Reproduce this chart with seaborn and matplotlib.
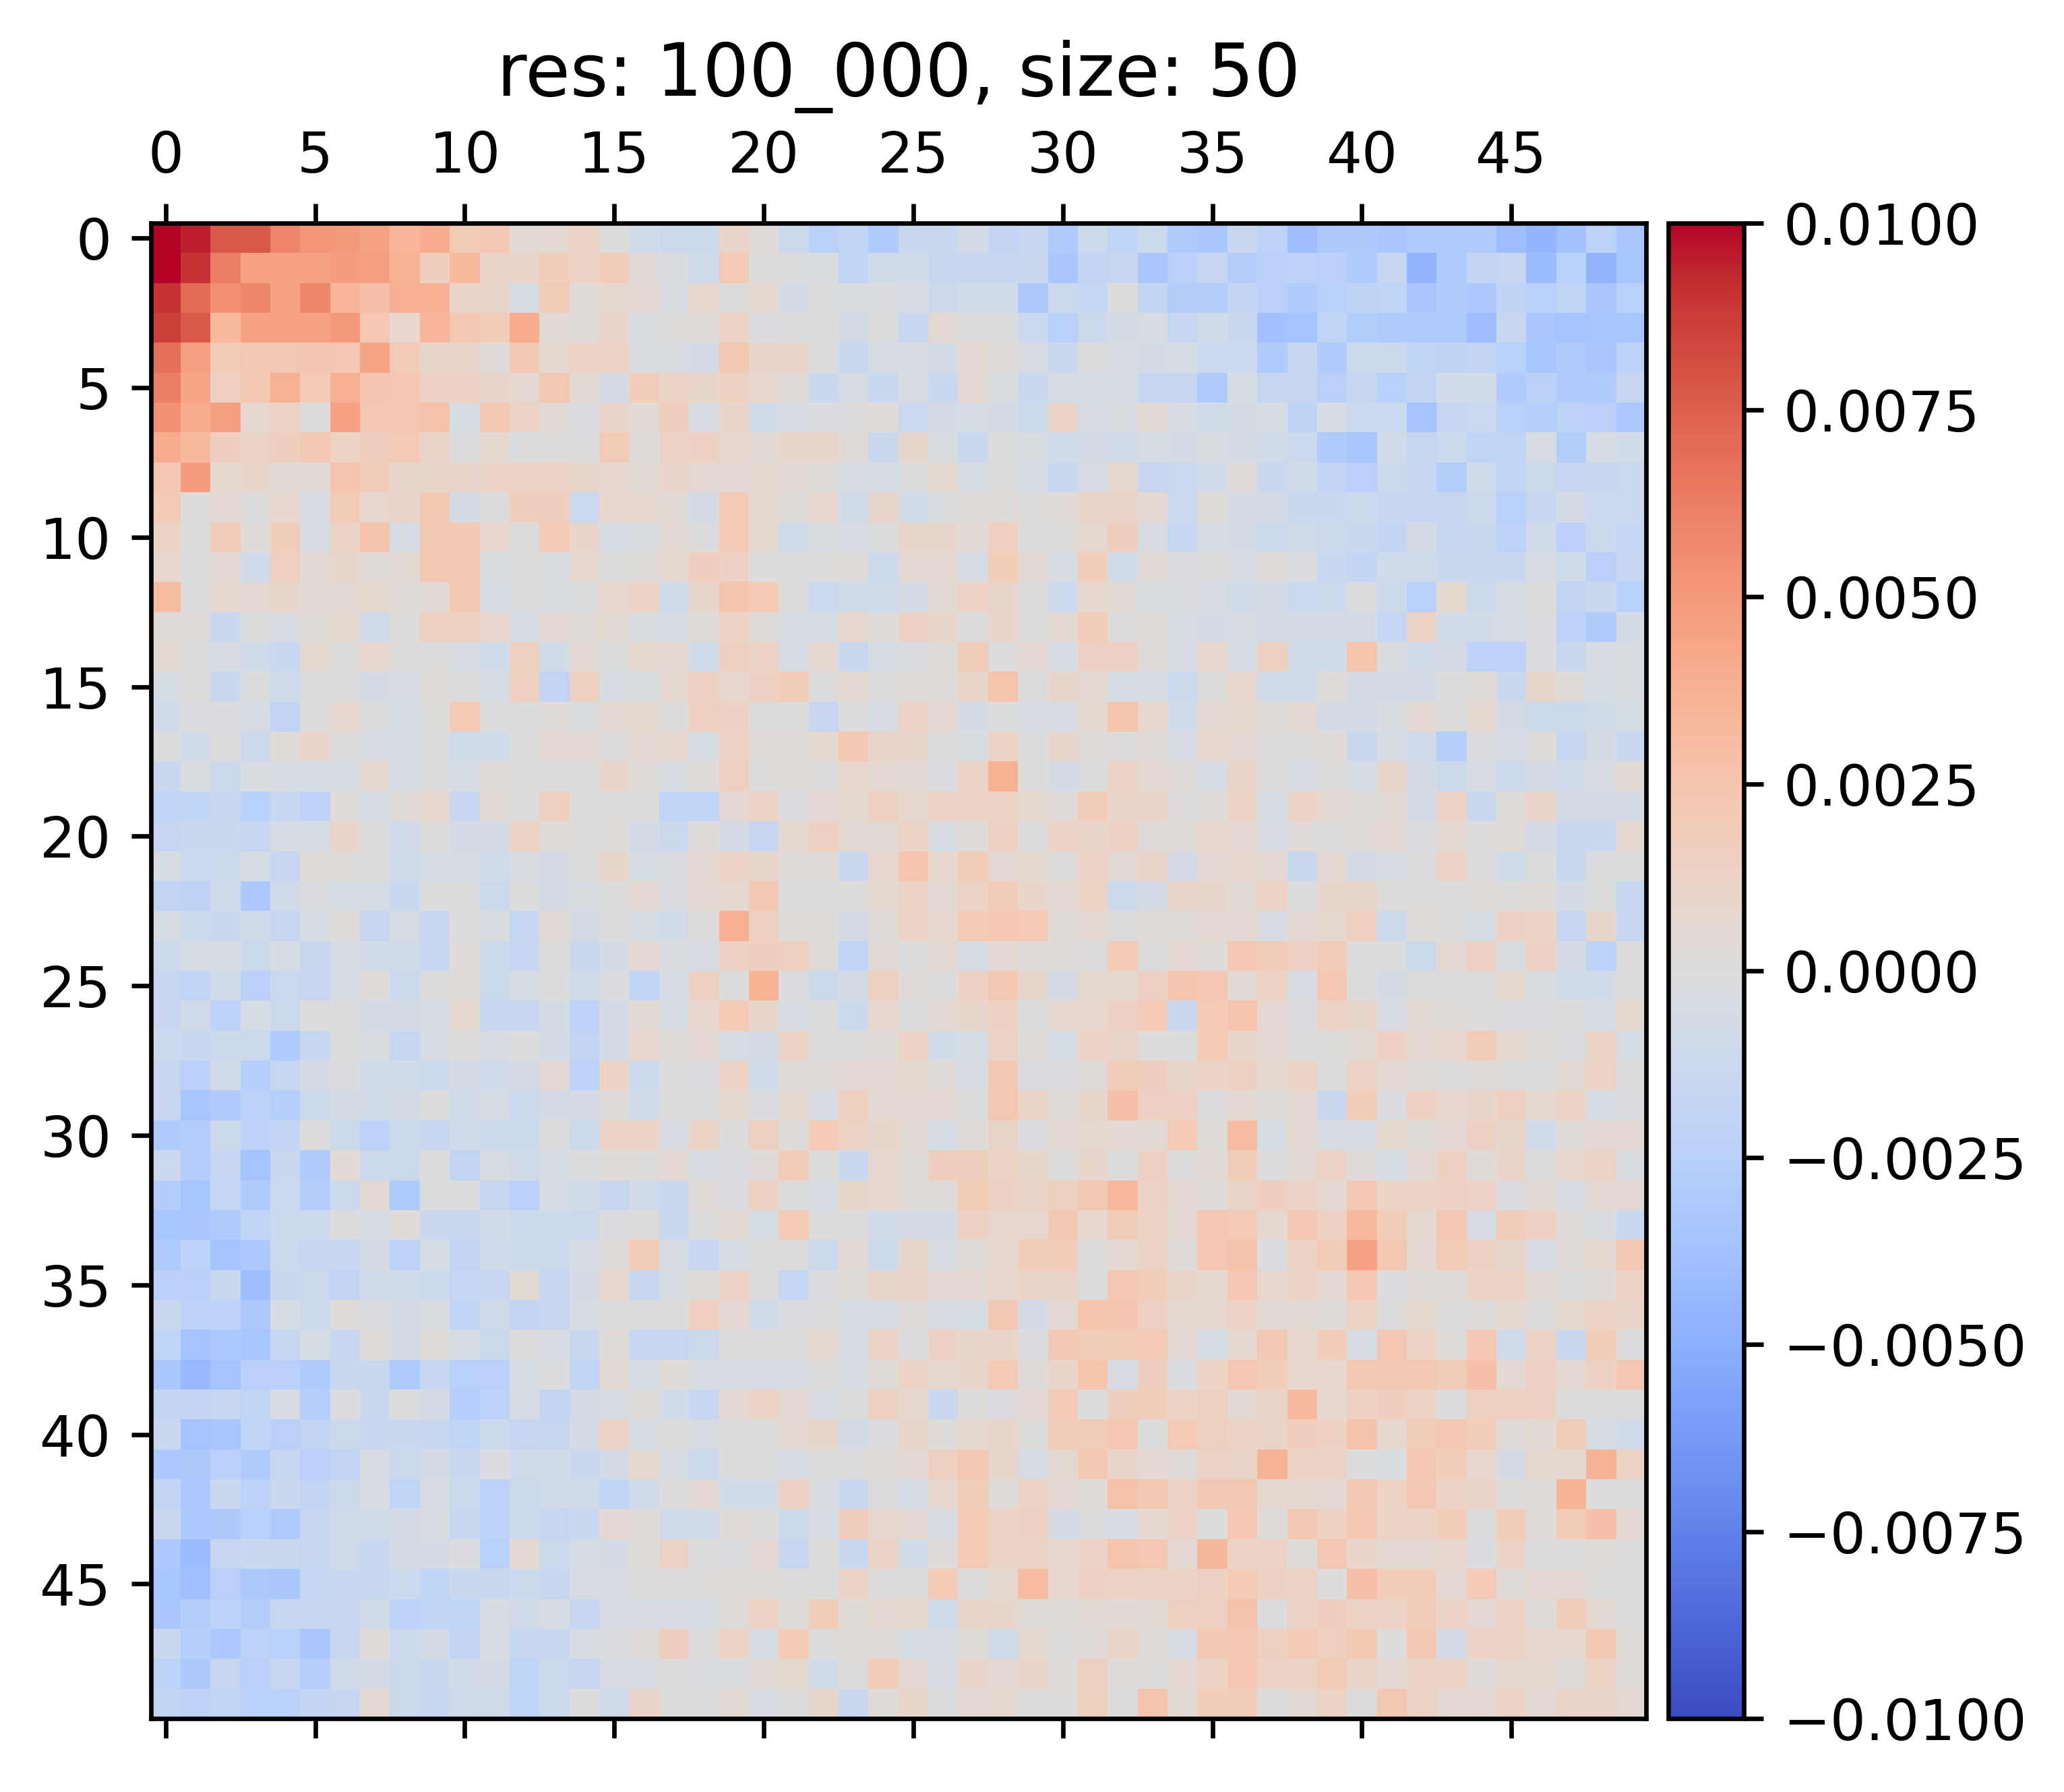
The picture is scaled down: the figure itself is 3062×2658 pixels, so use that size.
import matplotlib
matplotlib.use("Agg")
import matplotlib.pyplot as plt
import numpy as np
import seaborn as sns

# Matrix values, in units of 1e-4
value_scale = 1e-4
rows = [
    [100, 95, 78, 78, 60, 52, 50, 45, 35, 40, 20, 22, 5, 6, 12, 1, -8, -12, -12, 11, 3, -12, -25, -20, -30, -14, -14, -6, -18, -16, -30, -12, -20, -12, -30, -34, -14, -22, -40, -31, -31, -34, -30, -30, -29, -41, -46, -38, -22, -34],
    [100, 90, 62, 45, 45, 45, 48, 47, 37, 17, 32, 10, 10, 18, 12, 19, 4, -2, -10, 21, 0, 0, -3, -20, -9, -8, -15, -15, -15, -14, -34, -19, -15, -33, -24, -16, -27, -24, -22, -24, -29, -16, -47, -29, -18, -16, -42, -25, -47, -35],
    [90, 70, 54, 58, 46, 58, 35, 28, 38, 38, 11, 9, -5, 20, 3, 7, 6, -3, 8, 0, 7, -7, 0, -3, -2, -4, -12, -8, -8, -31, -12, -17, -1, -18, -27, -27, -19, -24, -29, -25, -21, -20, -34, -29, -32, -21, -25, -20, -34, -25],
    [86, 78, 32, 46, 46, 45, 50, 23, 8, 35, 22, 19, 40, 4, 3, 10, -3, 1, 3, 12, -2, 0, 1, -7, -1, -16, 6, 1, -1, -13, -25, -12, -6, -4, -16, -8, -14, -39, -36, -20, -28, -30, -30, -30, -40, -16, -34, -36, -35, -35],
    [68, 47, 20, 22, 22, 24, 23, 44, 21, 9, 10, 3, 22, 7, 13, 13, -3, -3, -6, 22, 10, 10, 0, -14, -4, -4, -7, 6, 3, -4, -14, -1, -4, -6, -5, -13, -13, -29, -16, -29, -12, -12, -20, -21, -19, -25, -35, -29, -33, -22],
    [62, 44, 16, 22, 37, 21, 38, 24, 23, 14, 14, 10, 6, 22, 5, -6, 18, 12, 9, 14, 8, 3, -14, -4, -14, -4, -14, 6, -3, -14, -5, -5, -4, -16, -15, -30, -5, -16, -16, -24, -15, -25, -18, -8, -8, -29, -23, -29, -29, -16],
    [54, 40, 47, 7, 12, 1, 46, 23, 23, 26, -5, 22, 12, 4, -2, 10, 4, 17, -4, 10, -8, -4, -2, 1, 2, -13, -6, -5, -6, -12, 12, -4, -3, 5, -4, -8, -6, -5, -21, -5, -13, -13, -36, -16, -13, -25, -26, -22, -24, -32],
    [40, 32, 17, 12, 17, 22, 12, 17, 21, 11, -1, 7, -1, 1, -1, 20, 3, 13, 14, 8, 4, 9, 9, 3, -14, 9, -3, -14, 0, -3, -10, -6, -9, -5, -6, -3, -6, -9, -13, -29, -35, -9, -16, -12, -20, -20, -4, -28, -5, -8],
    [23, 48, 7, 10, 4, 4, 25, 19, 9, 9, 10, 12, 12, 13, 9, 8, 4, 10, 6, 6, 7, 4, 2, -4, -5, 0, 7, -5, 0, -5, -14, -4, 7, -16, -13, -8, 3, -14, -8, -19, -24, -12, -16, -28, -10, -20, -12, -16, -15, -13],
    [21, 1, 6, 0, 8, -4, 20, 8, 10, 22, -6, 0, 17, 17, -13, 8, 8, 4, -6, 21, 7, 2, 8, -8, 9, -8, -1, 3, 3, 0, 3, 11, 11, 6, -13, 2, -6, -6, -14, -14, -11, -15, -16, -16, -12, -25, -16, -6, -13, -13],
    [12, 0, 19, 3, 18, -4, 12, 27, -5, 22, 22, 8, 1, 21, 10, -5, -3, 6, 0, 21, 7, -10, -3, -4, -1, 9, 9, 4, 16, 0, 1, 7, 17, -4, -16, -5, -6, -12, -9, -12, -14, -18, -6, -15, -14, -22, -9, -24, -12, -17],
    [8, 0, 6, -8, 16, 4, 9, 3, 5, 22, 22, -3, 0, -3, 8, -1, 2, 7, 17, 14, -1, -1, 0, 2, -11, 6, 6, -5, 18, 5, -4, 18, -8, 4, -2, 0, -4, 2, -2, -14, -18, -10, -10, -14, -14, -14, -4, -10, -24, -16],
    [30, 0, 7, 6, 9, 4, 5, 7, 3, 5, 22, -5, -1, -3, -1, 8, 12, -10, 9, 25, 21, 1, -13, -9, -10, -6, 5, 13, 9, 0, -11, 8, 4, -3, -2, -4, -9, -6, -13, -11, -1, -11, -25, 7, -12, -5, 0, -19, -14, -25],
    [2, 3, -14, -1, -4, 3, 7, -9, 1, 15, 15, 8, -5, 6, 3, 5, -3, -5, 3, 12, 3, -5, -5, 8, 2, 14, 9, 0, 10, 0, 6, 18, 1, 3, -4, -6, -4, -7, -7, -7, -6, -17, 12, -8, -8, -5, -2, -22, -30, -6],
    [6, 0, -4, -9, -14, 7, 0, 8, 1, 1, -4, -8, 15, -8, 6, -1, 7, 6, -8, 15, 12, -5, 7, -14, -5, -2, 2, 19, 0, 6, -5, 14, 14, 2, -4, 8, -5, 15, -8, -8, 25, -3, -8, -6, -22, -22, -2, -14, -4, -3],
    [-5, 0, -14, -1, -10, 0, 0, -7, -4, 3, 0, -5, 15, -19, 15, -4, -3, 7, 14, 8, 14, 19, 0, 6, 1, 3, 3, 10, 25, -1, 9, 6, -5, -5, -12, 0, 8, -8, -8, 2, -6, -6, -6, -1, 2, -14, 9, 2, -5, -3],
    [-9, -2, -2, -5, -19, 0, 8, -1, -5, 1, 21, 0, 0, 3, -3, 6, 7, 1, 15, 14, 0, 0, -16, 0, -4, 13, 6, -6, -1, -4, -4, 7, 25, 8, -8, 6, 7, 2, 6, -6, -6, -3, 6, 0, 7, -6, -12, -12, -8, -5],
    [0, -9, 0, -12, 3, 10, 1, -4, -5, 1, -9, -9, 0, 6, 6, 0, 6, 7, -5, 13, 3, 3, 7, 22, 11, 9, 0, -3, 13, 1, 9, 3, 0, 3, -4, 8, 6, 1, 1, 3, -14, -5, -10, -26, -2, -5, 3, -15, -6, -14],
    [-14, -3, -12, -3, -5, -5, -5, 7, -5, 0, -5, 3, 0, 0, 0, 10, 3, -4, 2, 15, 0, 2, 0, 8, 6, 5, -2, 13, 37, 1, -6, 0, 13, 6, 3, -5, 11, 1, -4, 1, -5, 9, -6, -12, -4, -12, -6, -9, -4, 5],
    [-20, -20, -15, -25, -15, -22, 3, -5, 3, 8, -15, 4, 1, 15, 0, 1, 1, -20, -20, 6, 13, -2, 6, 7, 15, 7, 12, 12, 12, 7, 3, 18, 10, 10, 1, 2, 12, -5, 13, 5, 2, 5, -6, 13, -14, 2, 10, -6, -6, -6],
    [-16, -14, -14, -16, -5, -5, 10, 0, -9, 1, -6, -6, 13, 2, 0, 2, -6, -12, 3, -6, -16, 7, 14, 5, 5, 13, -4, 3, 14, 0, 13, 10, 14, 3, 2, 8, 6, -4, 3, 0, 3, 6, -2, 6, 1, 3, -6, -14, -14, 7],
    [-5, -13, -11, -5, -16, 2, 2, 0, -10, -5, -5, -10, -3, -6, 0, 9, -5, -2, 6, 12, 9, 2, 3, -14, 8, 25, 8, 18, 6, 7, 1, 13, 5, 11, -6, 6, 8, 6, -14, 6, -6, -4, -1, 12, 1, -10, -1, -14, -1, 1],
    [-19, -21, -10, -32, -9, -2, -5, -5, -14, -1, 0, -12, 0, -6, -3, 0, 6, -2, 6, 7, 22, -1, -1, 1, 7, 13, 6, 12, 19, 10, 6, 13, -12, -6, 10, 9, 4, 13, -1, 9, 9, 1, 1, 0, 3, 1, 2, -6, -1, -16],
    [-5, -12, -14, -9, -16, -5, 3, -16, -5, -15, 0, -3, -16, 5, -6, 0, -5, -9, 1, 38, 15, 2, 2, -6, 2, 13, 8, 21, 23, 21, 3, 6, 1, 3, 3, 6, 6, -4, 6, 7, 15, -12, 2, 0, -5, 14, 13, -16, 9, -16],
    [-12, -5, -5, -12, -5, -14, -5, -8, -9, -16, 2, -11, -16, 0, -14, -6, 6, -2, -4, 14, 17, 15, 2, -20, 4, -1, 6, -5, 6, 3, 3, 0, 21, 1, 6, 2, 23, 19, 14, 19, 0, 0, -12, 6, 14, -3, 14, -6, -22, -1],
    [-15, -20, -8, -24, -13, -16, -5, 3, -12, 0, 2, -12, -5, 0, -10, -2, -20, -5, 15, 0, 37, -2, -12, -6, 15, 3, 0, 14, 22, 9, -6, 7, 7, 14, 25, 23, 4, 12, -4, 23, 1, -6, 0, 0, 0, 7, -3, -8, -8, 1],
    [-16, -8, -22, -5, -12, 0, 1, -6, -6, -5, 7, -16, -15, -6, -22, -6, 4, -4, 8, 21, 9, -4, 0, -11, 8, -1, 5, 9, 14, -1, 8, 8, 14, 21, -14, 21, 25, 6, -2, 13, 9, -4, 5, 2, 1, -2, -2, 1, -5, 7],
    [-11, -15, -12, -12, -30, -15, 0, -3, -16, -5, 1, -4, 0, -6, -19, -6, 8, 2, 6, -5, -7, 12, 0, 1, 3, 12, -8, -5, 12, 3, -5, 13, 10, 1, 0, 21, 9, 6, 0, 1, 5, 14, 6, 8, 19, 7, 2, -2, 12, -5],
    [-16, -24, -9, -26, -16, -6, -2, -9, -8, -12, -6, -10, -6, 6, -22, 12, -12, 0, -2, 13, -8, 2, 3, 6, 6, 7, 3, -4, 22, -2, -2, 3, 19, 17, 9, 13, 15, 7, 12, 0, 13, 6, 3, 1, 2, -1, -1, 5, 12, 1],
    [-16, -35, -30, -22, -26, -12, -6, -8, -6, 0, -9, -5, -12, -6, -6, 3, -8, 0, 0, 7, -2, 7, -4, 15, 6, 6, 6, 0, 22, 11, 2, 9, 28, 14, 14, 0, 6, 2, 6, -14, 18, -2, 14, 8, 10, 15, 7, 12, -5, -2],
    [-30, -27, -12, -22, -18, 0, -12, -22, -12, -16, -9, -11, -11, 0, -12, 12, 13, -4, 13, 0, 15, 3, 21, 12, 9, 5, -5, 2, 11, -2, 6, 7, 6, 5, 21, 2, 31, -5, 6, -4, -5, 7, 3, 6, 14, 9, -8, 3, 6, 6],
    [-13, -27, -16, -36, -14, -30, 4, -12, -12, 0, -19, -4, -9, -5, -1, 3, 1, 6, -4, -2, 3, 19, 1, -14, 8, 3, 17, 17, 12, 9, 1, 9, 0, 14, 0, 5, 19, 0, 5, 13, 3, -5, 6, 14, 2, 10, 0, 8, 12, -3],
    [-27, -35, -17, -29, -13, -27, -12, 6, -30, 0, 0, -16, -24, -5, -9, -16, -9, -14, 3, -2, 14, 0, -4, 9, 8, 3, 3, 20, 14, 11, 15, 22, 33, 13, 6, 3, 11, 17, 12, 6, 23, 13, 13, 14, 13, -2, 4, -4, 6, 6],
    [-35, -34, -30, -20, -12, -11, 0, -5, 3, -14, -14, -8, -12, -12, -12, -2, 1, -14, 0, 5, -5, 21, 0, 0, -8, -6, -6, 14, 8, 8, 22, 8, 19, 12, 6, 23, 21, 7, 23, 14, 33, 19, 7, 23, -4, 19, 14, 3, -3, -14],
    [-30, -22, -36, -32, -12, -16, -16, -6, -22, -5, -19, -9, -11, -12, -5, 3, 19, -4, -16, -5, -1, -1, -12, 4, -11, 9, -4, 3, 8, 19, 18, 1, 6, 12, 3, 23, 26, -2, 13, 19, 45, 22, 6, 20, 14, 9, -4, 3, 7, 22],
    [-24, -24, -14, -40, -14, -12, -19, -9, -8, -11, -17, -16, 4, -16, -6, 8, -15, -4, 2, 12, 1, -17, -2, 2, 9, 11, 6, 6, 8, 11, 11, 0, 23, 19, 11, 7, 23, 8, 12, 6, 23, -2, 3, 3, 13, 13, 5, 0, 3, 12],
    [-14, -22, -22, -31, -5, -12, 3, -2, -6, -3, -20, -9, -18, -16, -5, 0, 0, 1, 16, 6, -9, -2, 1, -5, -4, 3, -4, -5, 22, -6, 6, 25, 24, 14, 7, 7, 13, 5, 5, 3, 12, 1, 7, 0, 2, 7, 0, 7, 12, 11],
    [-20, -36, -32, -35, -16, -5, -15, 3, -6, 2, -5, -12, 1, -4, -14, 3, -16, -16, -12, 1, 1, 0, 7, -5, 12, -1, 14, 9, 10, -2, 22, 19, 20, 21, 6, -5, 7, 22, 8, 18, -4, 23, 12, 2, 23, -9, 12, -14, 19, 0],
    [-34, -43, -36, -24, -24, -30, -14, -14, -30, -15, -25, -24, -5, -1, -20, 5, -5, 3, -4, -4, -4, -4, 1, -4, 2, 12, 7, 10, 21, 3, 10, 25, -4, 17, -3, 12, 23, 18, 8, 8, 22, 22, 22, 19, 28, 6, 14, 6, 14, 23],
    [-18, -18, -16, -20, -4, -26, -2, -14, -1, -6, -26, -22, -5, -19, -6, -5, 3, -8, -16, 6, 13, 6, -4, 1, 15, 7, -14, 1, -2, 6, 21, -1, 17, 18, 13, 15, 5, 11, 32, 8, 14, 17, 13, 0, 15, 15, 14, 1, 0, 0],
    [-14, -36, -35, -20, -24, -19, -12, -15, -14, -15, -20, -12, -16, -16, -6, 12, -5, 0, -4, 0, 0, 6, 9, -6, -2, 9, 1, 7, 9, 1, 19, 19, 23, 0, 21, 15, 12, 11, 17, 14, 26, 7, 19, 23, 18, 3, 5, 19, -4, -9],
    [-32, -31, -24, -29, -16, -24, -19, -4, -12, -6, -14, -2, -10, -8, -14, -6, 7, -4, -11, 0, 0, -5, 1, 1, 3, 6, 15, 22, 9, -5, 6, 22, 10, 6, 3, 13, 11, 36, 13, 12, -1, -3, 23, 18, 8, -6, 7, 7, 36, 12],
    [-18, -32, -14, -22, -14, -19, -12, -4, -20, -4, -12, -22, -12, -9, -9, -20, -9, 0, 6, -8, -8, 14, -3, -14, 0, -5, 8, 19, 3, 12, 6, 2, 27, 22, 12, 22, 22, 7, 7, 6, 22, 13, 22, 13, 11, 1, 2, 36, 0, 0],
    [-14, -32, -31, -25, -30, -16, -9, -9, -6, -4, -14, -22, -12, -16, -14, 6, 3, -9, -9, 3, 0, -11, -4, 17, 8, 6, -4, 21, 12, 14, -6, 0, -4, 7, 12, 0, 23, 3, 22, 14, 22, 12, 13, 18, 0, 18, 3, 20, 28, 6],
    [-32, -42, -16, -14, -14, -16, -9, -15, -6, -6, -2, -25, 6, -12, -5, -6, 2, 12, 1, -2, 6, -16, 1, -14, 12, -8, 3, 21, 12, 12, 8, 13, 25, 23, 6, 34, 12, 13, 2, 23, 10, 6, 6, 8, -2, 13, 0, 0, 2, 0],
    [-35, -39, -24, -31, -34, -17, -15, -15, -11, -20, -14, -14, -11, -16, -4, -4, 0, 0, 1, 3, 3, 0, 0, 12, 1, 1, 21, 1, 7, 30, 8, 14, 12, 12, 13, 14, 21, 14, 12, 0, 28, 18, 18, 6, 21, 2, 6, 6, 1, 1],
    [-34, -27, -22, -27, -16, -16, -16, -8, -22, -20, -20, -5, -9, -4, -15, -4, -4, -4, -5, 2, 12, 2, 19, 2, 6, 7, -10, 11, 9, 2, 2, 5, 4, 5, 15, 15, 27, 0, 12, 17, 12, 12, 19, 12, 6, 13, 2, 19, 6, 1],
    [-14, -26, -32, -22, -25, -34, -15, 3, -11, -6, -19, -4, -15, -16, -4, -2, 3, 17, 0, 12, -5, 21, 0, 3, 3, -5, -4, 2, -9, 7, 1, 3, 11, 3, -4, 22, 23, 15, 21, 16, 22, 0, 22, -6, 12, 13, 8, 8, 22, 2],
    [-22, -31, -16, -24, -16, -26, -9, -6, -12, -14, -8, -6, -20, -12, -16, -4, -4, 1, -2, -3, 4, 7, -8, 1, 18, 6, -4, 10, 6, 10, 2, 15, 2, 1, 6, 12, 23, 13, 13, 20, 11, 6, 12, 12, 3, 7, 7, 2, 13, 3],
    [-18, -22, -20, -25, -25, -18, -16, 6, -12, -15, -9, -9, -20, -11, 0, -9, 10, 1, 0, 5, -4, 1, 9, -14, 3, 9, -1, 6, 7, 1, 1, 15, -1, 25, 5, 18, 18, 0, 5, 12, 0, 22, 12, 6, 6, 13, 6, 11, 11, 6],
]
tick_positions = list(range(0, 50, 5))
cbar_ticks = [-0.01, -0.0075, -0.005, -0.0025, 0.0, 0.0025, 0.005, 0.0075, 0.01]
title = "res: 100_000, size: 50"

data = np.array(rows, dtype=float) * value_scale

fig = plt.figure(figsize=(3062 / 600, 2658 / 600), dpi=600)
ax = fig.add_axes([0.0730, 0.0410, 0.7245, 0.8345])
cax = fig.add_axes([0.8083, 0.0410, 0.0366, 0.8345])

sns.heatmap(data, ax=ax, cbar_ax=cax, cmap="coolwarm", vmin=-0.01, vmax=0.01,
            xticklabels=False, yticklabels=False)

# matshow look: full frame, x labels on top, ticks top and bottom
for spine in ax.spines.values():
    spine.set_visible(True)
    spine.set_linewidth(0.8)

ax.set_xticks([t + 0.5 for t in tick_positions])
ax.set_xticklabels([str(t) for t in tick_positions], rotation=0)
ax.set_yticks([t + 0.5 for t in tick_positions])
ax.set_yticklabels([str(t) for t in tick_positions], rotation=0)
ax.xaxis.set_ticks_position("both")
ax.tick_params(axis="x", labeltop=True, labelbottom=False, length=3.5, width=0.8, labelsize=10)
ax.tick_params(axis="y", left=True, right=False, length=3.5, width=0.8, labelsize=10)
ax.set_title(title, fontsize=13)

cbar = ax.collections[0].colorbar
cbar.outline.set_linewidth(0.8)
cbar.set_ticks(cbar_ticks)
cax.tick_params(length=3.5, width=0.8, labelsize=10)

fig.savefig("out.png", dpi=600)
